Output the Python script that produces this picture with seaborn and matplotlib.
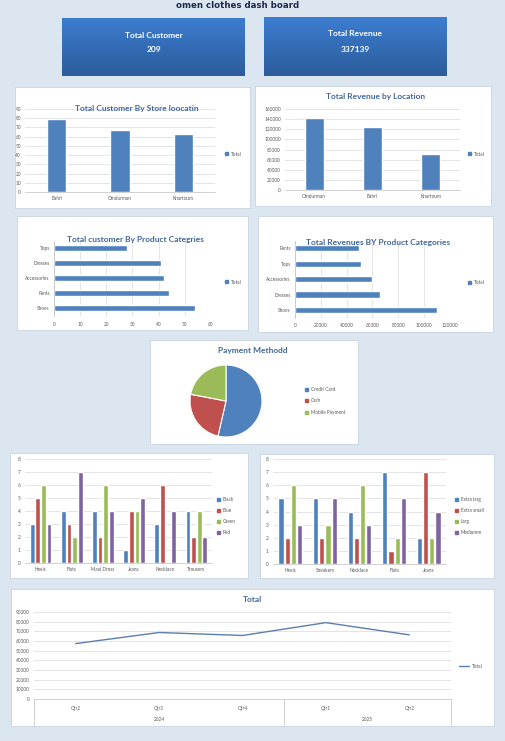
import numpy as np
import pandas as pd
import matplotlib
matplotlib.use("Agg")
import matplotlib.pyplot as plt
import seaborn as sns
from matplotlib.patches import Rectangle, Patch
from matplotlib.lines import Line2D
from matplotlib.colors import LinearSegmentedColormap
from matplotlib.ticker import FuncFormatter
import matplotlib.transforms as mtransforms

# ---------------- data ----------------
total_customers = 209
total_revenue = 337139

store_locations = ["Bahri", "Omdurman", "Khartoum"]
store_customers = [79, 67, 63]

rev_locations = ["Omdurman", "Bahri", "Khartoum"]
rev_totals = [142500, 123500, 71139]

cust_categories = ["Tops", "Dresses", "Accessories", "Pants", "Shoes"]
cust_counts = [28, 41, 42, 44, 54]

rev_categories = ["Pants", "Tops", "Accessories", "Dresses", "Shoes"]
rev_by_category = [49700, 51300, 59900, 66000, 110239]

payment_methods = ["Credit Card", "Cash", "Mobile Payment"]
payment_counts = [112, 51, 46]

color_products = ["Heels", "Flats", "Maxi Dress", "Jeans", "Necklace", "Trousers"]
color_names = ["Black", "Blue", "Green", "Red"]
black_counts = [3, 4, 4, 1, 3, 4]
blue_counts = [5, 3, 2, 4, 6, 2]
green_counts = [6, 2, 6, 4, 0, 4]
red_counts = [3, 7, 4, 5, 4, 2]

size_products = ["Heels", "Sneakers", "Necklace", "Flats", "Jeans"]
size_names = ["Extra larg", "Extra small", "Larg", "Mediumm"]
xlarge_counts = [5, 5, 4, 7, 2]
xsmall_counts = [2, 2, 2, 1, 7]
large_counts = [6, 3, 6, 2, 2]
medium_counts = [3, 5, 3, 5, 4]

quarters = ["Qtr2", "Qtr3", "Qtr4", "Qtr1", "Qtr2"]
quarter_years = ["2024", "2025"]
quarter_revenue = [57300, 68800, 65700, 79000, 66339]

# ---------------- style ----------------
sns.set_style("white")
plt.rcParams["font.family"] = ["Lato", "DejaVu Sans"]

BLUE = "#4f81bd"
RED = "#c0504d"
GREEN = "#9bbb59"
PURPLE = "#8064a2"
BG = "#dce6f1"
TITLE_C = "#41669a"
TICK_C = "#595959"
GRID_C = "#d9d9d9"
LINE_C = "#5b7fab"
TS = 3.4

W, H = 506, 741
fig = plt.figure(figsize=(W / 100, H / 100), dpi=100, facecolor=BG)


def px_ax(x0, y0, x1, y1):
    return fig.add_axes([x0 / W, 1 - y1 / H, (x1 - x0) / W, (y1 - y0) / H])


def panel(x0, y0, x1, y1):
    fig.add_artist(Rectangle((x0 / W, 1 - y1 / H), (x1 - x0) / W, (y1 - y0) / H,
                             transform=fig.transFigure, facecolor="white",
                             edgecolor="#c9d3de", lw=0.6, zorder=-1))


def ftext(x, y, s, **kw):
    fig.text(x / W, 1 - y / H, s, ha="center", va="center", **kw)


def title(x, y, s):
    ftext(x, y, s, fontsize=6.0, fontweight="bold", color=TITLE_C, zorder=5)


def legend(x, y, handles, labels, spacing=1.2, hl=0.6):
    fig.legend(handles, labels, loc="center left", bbox_to_anchor=(x / W, 1 - y / H),
               frameon=False, fontsize=TS, labelcolor=TICK_C, handlelength=hl,
               handleheight=0.6, handletextpad=0.6, borderpad=0, borderaxespad=0,
               labelspacing=spacing)


def style(ax, grid="y"):
    for s in ax.spines.values():
        s.set_visible(False)
    ax.grid(axis=grid, color=GRID_C, lw=0.5)
    ax.set_axisbelow(True)
    ax.tick_params(length=0, labelsize=TS, colors=TICK_C, pad=3)
    ax.set_xlabel("")
    ax.set_ylabel("")
    ax.patch.set_alpha(0)
    side = "bottom" if grid == "y" else "left"
    ax.spines[side].set_visible(True)
    ax.spines[side].set_color("#bfbfbf")
    ax.spines[side].set_linewidth(0.5)


plain = FuncFormatter(lambda v, _: f"{int(v)}")

# ---------------- header ----------------
ftext(238, 5, "omen clothes dash board", fontsize=6.2, fontweight="bold",
      color="#1b2b4b", family="DejaVu Sans")

kpi_cmap = LinearSegmentedColormap.from_list("kpi", ["#3c7dd0", "#2c5c9b"])
for (x0, y0, x1, y1), label, value in [((62, 18, 245, 76), "Total Customer", total_customers),
                                       ((264, 17, 447, 76), "Total Revenue", total_revenue)]:
    kax = px_ax(x0, y0, x1, y1)
    kax.imshow(np.linspace(0, 1, 64).reshape(-1, 1), cmap=kpi_cmap, aspect="auto",
               extent=[0, 1, 0, 1])
    kax.axis("off")
    cx = (x0 + x1) / 2
    ftext(cx, y0 + 17, label, fontsize=6.0, fontweight="bold", color="white", zorder=5)
    ftext(cx, y0 + 32, str(value), fontsize=6.0, fontweight="bold", color="white", zorder=5)

# ---------------- customers by store ----------------
panel(15, 87, 250, 208)
ax = px_ax(25, 109, 215, 192)
sns.barplot(x=store_locations, y=store_customers, color=BLUE, saturation=1, width=0.31, ax=ax)
ax.set_ylim(0, 90)
ax.set_yticks(range(0, 91, 10))
style(ax)
title(137, 109, "Total Customer By Store loocatin")
legend(225, 154, [Patch(color=BLUE)], ["Total"])

# ---------------- revenue by location ----------------
panel(255, 86, 491, 206)
ax = px_ax(285, 109, 460, 190)
sns.barplot(x=rev_locations, y=rev_totals, color=BLUE, saturation=1, width=0.32, ax=ax)
ax.set_ylim(0, 160000)
ax.set_yticks(range(0, 160001, 20000))
ax.yaxis.set_major_formatter(plain)
style(ax)
title(376, 96, "Total Revenue by Location")
legend(468, 154, [Patch(color=BLUE)], ["Total"])

# ---------------- customers by category ----------------
panel(17, 216, 248, 330)
ax = px_ax(54, 240.5, 211, 315.5)
sns.barplot(x=cust_counts, y=cust_categories, orient="h", color=BLUE, saturation=1,
            width=0.4, ax=ax)
ax.set_xlim(0, 60)
ax.set_xticks(range(0, 61, 10))
style(ax, grid="x")
ax.tick_params(axis="x", pad=5)
title(135, 240, "Total customer By Product Categries")
legend(225, 282, [Patch(color=BLUE)], ["Total"])

# ---------------- revenue by category ----------------
panel(258, 216, 493, 332)
ax = px_ax(295, 240.6, 450, 317.7)
sns.barplot(x=rev_by_category, y=rev_categories, orient="h", color=BLUE, saturation=1,
            width=0.4, ax=ax)
ax.set_xlim(0, 120000)
ax.set_xticks(range(0, 120001, 20000))
ax.xaxis.set_major_formatter(plain)
style(ax, grid="x")
ax.tick_params(axis="x", pad=4)
title(378, 242, "Total Revenues BY Product Categories")
legend(468, 283, [Patch(color=BLUE)], ["Total"])

# ---------------- payment method ----------------
panel(150, 340, 358, 444)
ax = px_ax(190, 365, 262, 437)
ax.pie(payment_counts, colors=[BLUE, RED, GREEN], startangle=90, counterclock=False,
       wedgeprops=dict(edgecolor="white", linewidth=0.8))
ax.set_xlim(-1.0, 1.0)
ax.set_ylim(-1.0, 1.0)
ax.set_aspect("equal")
title(253, 351, "Payment Methodd")
legend(305, 401, [Patch(color=c) for c in [BLUE, RED, GREEN]], payment_methods, spacing=1.35)

# ---------------- colours by product ----------------
panel(10, 453, 248, 578)
ax = px_ax(25, 459, 212, 563)
color_df = pd.DataFrame({
    "product": color_products * 4,
    "color": np.repeat(color_names, len(color_products)),
    "count": black_counts + blue_counts + green_counts + red_counts,
})
sns.barplot(data=color_df, x="product", y="count", hue="color",
            palette=[BLUE, RED, GREEN, PURPLE], saturation=1, width=0.72, gap=0.15,
            legend=False, ax=ax)
ax.set_ylim(0, 8)
ax.set_yticks(range(0, 9))
style(ax)
legend(217, 516, [Patch(color=c) for c in [BLUE, RED, GREEN, PURPLE]], color_names, spacing=1.25)

# ---------------- sizes by product ----------------
panel(260, 454, 494, 578)
ax = px_ax(273, 459, 446, 564)
size_df = pd.DataFrame({
    "product": size_products * 4,
    "size": np.repeat(size_names, len(size_products)),
    "count": xlarge_counts + xsmall_counts + large_counts + medium_counts,
})
sns.barplot(data=size_df, x="product", y="count", hue="size",
            palette=[BLUE, RED, GREEN, PURPLE], saturation=1, width=0.72, gap=0.15,
            legend=False, ax=ax)
ax.set_ylim(0, 8)
ax.set_yticks(range(0, 9))
style(ax)
legend(455, 516, [Patch(color=c) for c in [BLUE, RED, GREEN, PURPLE]], size_names, spacing=1.25)

# ---------------- revenue by quarter ----------------
panel(11, 589, 494, 726)
ax = px_ax(34, 612, 451, 699)
qx = list(range(len(quarters)))
sns.lineplot(x=qx, y=quarter_revenue, color=LINE_C, lw=1.0, ax=ax)
ax.set_xlim(-0.5, len(quarters) - 0.5)
ax.set_ylim(0, 90000)
ax.set_yticks(range(0, 90001, 10000))
ax.yaxis.set_major_formatter(plain)
ax.set_xticks(qx)
ax.set_xticklabels(quarters)
style(ax)
ax.tick_params(axis="x", pad=5)
trans = mtransforms.blended_transform_factory(ax.transData, ax.transAxes)
ax.text(1, -0.23, quarter_years[0], transform=trans, ha="center", va="center",
        fontsize=TS, color=TICK_C)
ax.text(3.5, -0.23, quarter_years[1], transform=trans, ha="center", va="center",
        fontsize=TS, color=TICK_C)
for sx in [-0.5, 2.5, len(quarters) - 0.5]:
    ax.plot([sx, sx], [0, -0.31], transform=trans, color="#bfbfbf", lw=0.5, clip_on=False)
title(252, 599, "Total")
legend(459, 666, [Line2D([], [], color=LINE_C, lw=1.0)], ["Total"], hl=2.2)

fig.savefig("out.png", dpi=100, facecolor=BG)
